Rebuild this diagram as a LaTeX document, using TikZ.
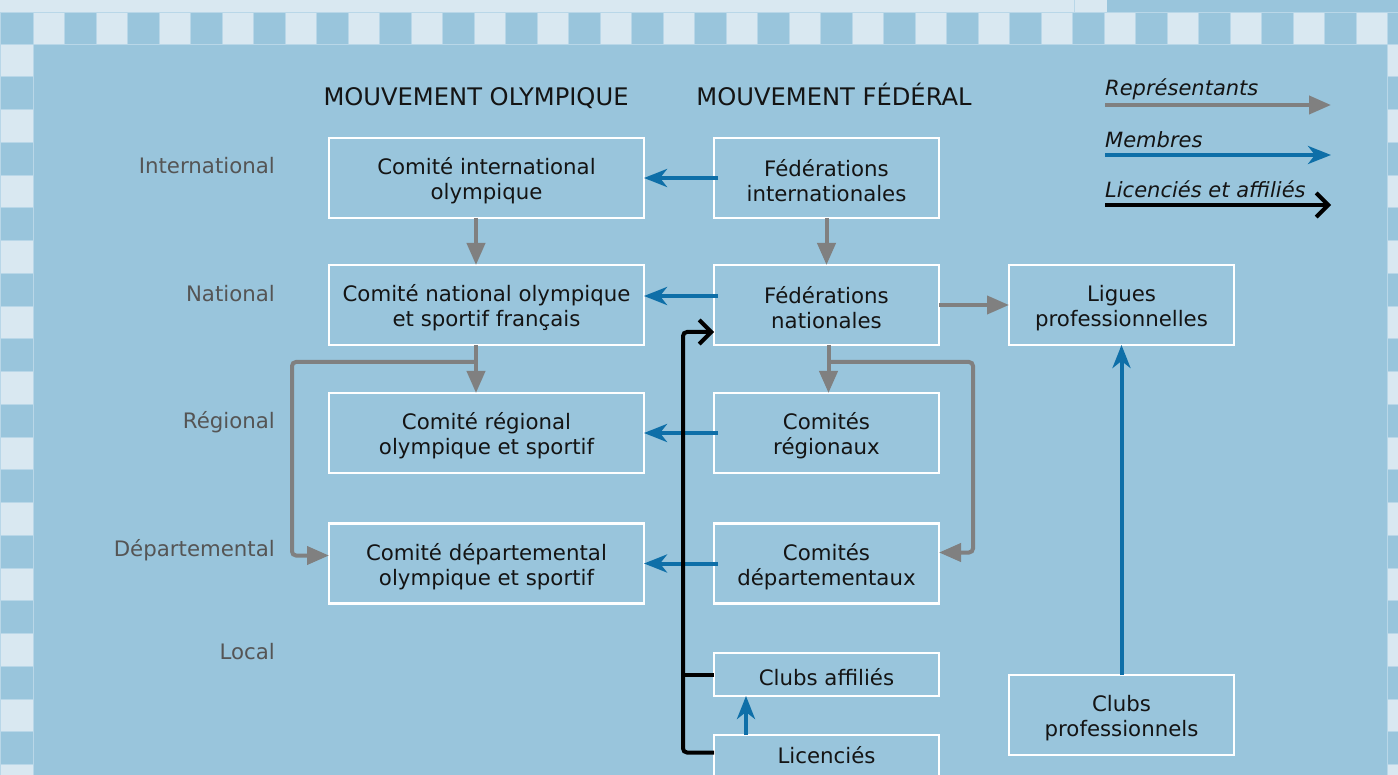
\documentclass[tikz,border=0pt]{standalone}
\usepackage{fontspec}
\setmainfont{DejaVu Sans}
\usetikzlibrary{arrows.meta,calc}
\definecolor{bg}{HTML}{99C5DC}
\definecolor{lt}{HTML}{D9E8F1}
\definecolor{gridc}{HTML}{B9D7E8}
\definecolor{grayarr}{HTML}{808080}
\definecolor{bluearr}{HTML}{0E6FA8}
\definecolor{txt}{HTML}{141414}
\definecolor{lvlc}{HTML}{555555}
\begin{document}
\begin{tikzpicture}[x=1pt,y=-1pt,
  box/.style={draw=white,line width=2.5pt,minimum height=80pt,inner sep=0pt,outer sep=0pt},
  wbox/.style={box,minimum width=315pt},
  nbox/.style={box,minimum width=225pt},
  sbox/.style={nbox,minimum height=43pt},
  btext/.style={text=txt,font=\fontsize{21.3}{25}\selectfont,align=center,inner sep=0pt,yshift=-3pt},
  lvltext/.style={anchor=east,text=lvlc,font=\fontsize{21.3}{25}\selectfont,inner sep=0pt},
  head/.style={anchor=base,text=txt,font=\fontsize{24.2}{28}\selectfont,inner sep=0pt},
  legtext/.style={anchor=base west,text=txt,font=\fontsize{21}{25}\selectfont\itshape,inner sep=0pt},
  rep/.style={draw=grayarr,line width=4pt,-{Triangle[length=22pt,width=18pt]}},
  mem/.style={draw=bluearr,line width=4pt,-{Stealth[length=23pt,width=18pt,inset=7pt]}},
  lic/.style={draw=black,line width=4pt,-{Straight Barb[length=12pt,width=24pt]}},
  cell/.style={draw=gridc,line width=0.8pt}
]
\useasboundingbox (0,0) rectangle (1398,775);
\begin{scope}
\clip (0,0) rectangle (1398,775);
\fill[bg] (0,0) rectangle (1398,775);
% top strip
\fill[lt] (0,0) rectangle (1107,12);
\draw[gridc,line width=0.8pt] (1074,0) -- (1074,12);
% top row of cells
\draw[cell,fill=bg] (0,12) rectangle (33,44);
\foreach \j in {0,...,42}{
  \pgfmathsetmacro{\xa}{33+31.5*\j}
  \pgfmathsetmacro{\xb}{33+31.5*(\j+1)}
  \ifodd\j
    \draw[cell,fill=bg] (\xa,12) rectangle (\xb,44);
  \else
    \draw[cell,fill=lt] (\xa,12) rectangle (\xb,44);
  \fi
}
\draw[cell,fill=bg] (1387.5,12) rectangle (1400,44);
% side columns
\foreach \j in {0,...,22}{
  \pgfmathsetmacro{\ya}{44+32.75*\j}
  \pgfmathsetmacro{\yb}{44+32.75*(\j+1)}
  \ifodd\j
    \draw[cell,fill=bg] (0,\ya) rectangle (33,\yb);
    \draw[cell,fill=bg] (1387.5,\ya) rectangle (1400,\yb);
  \else
    \draw[cell,fill=lt] (0,\ya) rectangle (33,\yb);
    \draw[cell,fill=lt] (1387.5,\ya) rectangle (1400,\yb);
  \fi
}
\end{scope}

% headers
\node[head] (h1) at (476,106) {MOUVEMENT OLYMPIQUE};
\node[head] (h2) at (834,106) {MOUVEMENT FÉDÉRAL};

% level labels
\node[lvltext] (l1) at (275,166) {International};
\node[lvltext] (l2) at (275,294) {National};
\node[lvltext] (l3) at (275,422) {Régional};
\node[lvltext] (l4) at (275,550) {Départemental};
\node[lvltext] (l5) at (275,652) {Local};

% boxes
\node[wbox,label={[btext]center:{Comité international\\olympique}}] (cio) at (486.5,178) {};
\node[nbox,label={[btext]center:{Fédérations\\internationales}}] (fedi) at (826.5,178) {};
\node[wbox,label={[btext]center:{Comité national olympique\\et sportif français}}] (cnosf) at (486.5,305) {};
\node[nbox,label={[btext]center:{Fédérations\\nationales}}] (fedn) at (826.5,305) {};
\node[nbox,label={[btext]center:{Ligues\\professionnelles}}] (lig) at (1121.5,305) {};
\node[wbox,label={[btext]center:{Comité régional\\olympique et sportif}}] (cros) at (486.5,433) {};
\node[nbox,label={[btext]center:{Comités\\régionaux}}] (comr) at (826.5,433) {};
\node[wbox,label={[btext]center:{Comité départemental\\olympique et sportif}}] (cdos) at (486.5,563.5) {};
\node[nbox,label={[btext]center:{Comités\\départementaux}}] (comd) at (826.5,563.5) {};
\node[sbox,label={[btext]center:{Clubs affiliés}}] (clubs) at (826.5,674.5) {};
\node[sbox,label={[btext,yshift=4.5pt]center:{Licenciés}}] (licn) at (826.5,756.5) {};
\node[nbox,label={[btext]center:{Clubs\\professionnels}}] (clubp) at (1121.5,715) {};

% members (blue)
\draw[mem,shorten <=-4pt] (fedi.west) -- (cio.east);
\draw[mem,shorten <=-4pt] ($(fedn.west)+(0,-9)$) -- ($(cnosf.east)+(0,-9)$);
\draw[mem,shorten <=-4pt] (comr.west) -- (cros.east);
\draw[mem,shorten <=-4pt] (comd.west) -- (cdos.east);
\draw[mem] (clubp.north) -- (lig.south);
\draw[mem] ($(licn.north)+(-80.5,0)$) -- ($(clubs.south)+(-80.5,0)$);

% representatives (gray)
\draw[rep] ($(cio.south)+(-10.5,0)$) -- ($(cnosf.north)+(-10.5,0)$);
\draw[rep] (fedi.south) -- (fedn.north);
\draw[rep] (fedn.east) -- (lig.west);
\draw[rep] ($(cnosf.south)+(-10.5,0)$) -- ($(cros.north)+(-10.5,0)$);
\draw[rep,rounded corners=4pt] ($(cnosf.south)+(-10.5,17)$) -| ($(cdos.west)+(-37,-8)$) -- ($(cdos.west)+(0,-8)$);
\draw[rep] ($(fedn.south)+(2,0)$) -- ($(comr.north)+(2,0)$);
\draw[rep,rounded corners=4pt] ($(fedn.south)+(2,17)$) -| ($(comd.east)+(34,-11)$) -- ($(comd.east)+(0,-11)$);

% licensed and affiliated (black)
\coordinate (bk) at ($(fedn.west)+(-31,27)$);
\draw[lic,rounded corners=4pt] ($(licn.west)+(0,-4)$) -| (bk) -- (bk -| fedn.west);
\draw[black,line width=4pt] (clubs.west) -- (clubs.west -| bk);

% legend
\coordinate (g1a) at (1105,105); \coordinate (g1b) at (1331,105);
\coordinate (g2a) at (1105,155); \coordinate (g2b) at (1331,155);
\coordinate (g3a) at (1105,205); \coordinate (g3b) at (1331,205);
\node[legtext] (t1) at (1105,96) {Représentants};
\node[legtext] (t2) at (1105,148) {Membres};
\node[legtext] (t3) at (1105,198) {Licenciés et affiliés};
\draw[rep] (g1a) -- (g1b);
\draw[mem] (g2a) -- (g2b);
\draw[lic] (g3a) -- (g3b);
\end{tikzpicture}
\end{document}
